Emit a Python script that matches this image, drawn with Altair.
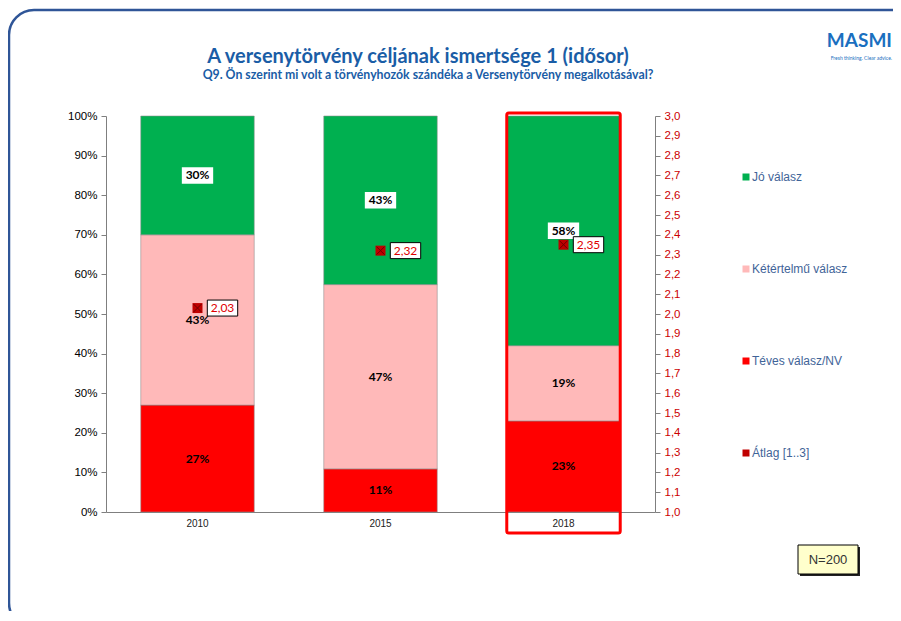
import altair as alt
import pandas as pd

# ---- data ----
years = ["2010", "2015", "2018"]
series_names = ["Téves válasz/NV", "Kétértelmű válasz", "Jó válasz"]
teves = [27, 11, 23]
ketertelmu = [43, 47, 19]
jo = [30, 43, 58]
atlag = [2.03, 2.32, 2.35]
legend_labels = ["Jó válasz", "Kétértelmű válasz", "Téves válasz/NV", "Átlag [1..3]"]
legend_colors = ["#00b050", "#ffb9b9", "#ff0000", "#c00000"]
pct_ticks = [0, 0.1, 0.2, 0.3, 0.4, 0.5, 0.6, 0.7, 0.8, 0.9, 1.0]
avg_ticks = [1.0, 1.1, 1.2, 1.3, 1.4, 1.5, 1.6, 1.7, 1.8, 1.9, 2.0,
             2.1, 2.2, 2.3, 2.4, 2.5, 2.6, 2.7, 2.8, 2.9, 3.0]
highlight_year = ["2018"]
title_text = ["A versenytörvény céljának ismertsége 1 (idősor)"]
subtitle_text = ["Q9. Ön szerint mi volt a törvényhozók szándéka a Versenytörvény megalkotásával?"]
n_label = ["N=200"]
logo_text = ["MASMI"]
tagline_text = ["Fresh thinking. Clear advice."]

rows = []
for s_i, (name, vals) in enumerate(zip(series_names, [teves, ketertelmu, jo])):
    for yr, v in zip(years, vals):
        rows.append({"year": yr, "series": name, "value": v, "order": s_i})
df = pd.DataFrame(rows)
df_avg = pd.DataFrame({"year": years, "atlag": atlag})

BLUE = "#1a5da6"
BOX = "M-1.9,-1H1.9V1H-1.9Z"

xscale = alt.Scale(domain=years, paddingInner=0.38, paddingOuter=0.19)
x_axis = alt.Axis(title=None, labelAngle=0, ticks=False, labelFontSize=10,
                  labelFont="Liberation Sans", labelColor="#222222", labelPadding=6,
                  domainColor="#7f7f7f", domainWidth=1)
x_enc = alt.X("year:N", scale=xscale, axis=x_axis)
yscale_left = alt.Scale(domain=[0, 1])
left_axis = alt.Axis(title=None, values=pct_ticks, format=".0%", grid=False,
                     tickSize=5, labelPadding=4, labelFontSize=11.5,
                     labelFont="Liberation Sans", labelColor="#000000",
                     domainColor="#7f7f7f", tickColor="#7f7f7f")
yscale_right = alt.Scale(domain=[1, 3])
right_axis = alt.Axis(title=None, orient="right", values=avg_ticks, format=".1f",
                      labelExpr="replace(datum.label, '.', ',')", grid=False,
                      tickSize=5, labelPadding=4, labelFontSize=11.5,
                      labelFont="Liberation Sans", labelColor="#cc0000",
                      domainColor="#7f7f7f", tickColor="#7f7f7f")
color_scale = alt.Scale(domain=legend_labels, range=legend_colors)
legend = alt.Legend(title=None, orient="none", legendX=634, legendY=55,
                    symbolType="square", symbolSize=49, symbolStrokeWidth=0,
                    labelFont="Liberation Sans", labelFontSize=12,
                    labelColor="#3f6498", rowPadding=80, labelOffset=0)

stacked = alt.Chart(df).transform_stack(
    stack="value", groupby=["year"],
    sort=[alt.SortField("order", order="ascending")],
    offset="normalize", as_=["y0", "y1"]
).transform_calculate(
    mid="(datum.y0 + datum.y1) / 2", label="datum.value + '%'"
)

bars = stacked.mark_bar(stroke="#8c8c8c", strokeWidth=0.8, strokeOpacity=0.7).encode(
    x=x_enc,
    y=alt.Y("y0:Q", scale=yscale_left, axis=left_axis),
    y2="y1",
    color=alt.Color("series:N", scale=color_scale, legend=legend),
)

highlight = alt.Chart(pd.DataFrame({"year": highlight_year})).mark_rect(
    fill="white", fillOpacity=0, stroke="#ff0000", strokeWidth=3, cornerRadius=2
).encode(x=x_enc, y=alt.value(-3), y2=alt.value(417))

label_boxes = stacked.transform_filter("datum.series == 'Jó válasz'").mark_point(
    shape=BOX, size=272, filled=True, fill="white", strokeWidth=0, opacity=1
).encode(x=x_enc, y=alt.Y("mid:Q", scale=yscale_left, axis=left_axis))

labels = stacked.mark_text(font="Lato", fontWeight="bold", fontSize=12, color="black").encode(
    x=x_enc, y=alt.Y("mid:Q", scale=yscale_left, axis=left_axis), text="label:N"
)

left = alt.layer(bars, label_boxes, labels, highlight)

avg_base = alt.Chart(df_avg).transform_calculate(
    lbl="replace(format(datum.atlag, '.2f'), '.', ',')"
)
y_right = alt.Y("atlag:Q", scale=yscale_right, axis=right_axis)
avg_point = avg_base.mark_point(shape="square", filled=True, size=100, opacity=1).encode(
    x=x_enc, y=y_right, color=alt.datum("Átlag [1..3]"),
)
avg_x = avg_base.mark_point(shape="M-1,-1L1,1M1,-1L-1,1", size=64, filled=False,
                            color="#6e0000", strokeWidth=1, opacity=1).encode(
    x=x_enc, y=y_right
)
avg_box = avg_base.mark_point(shape=BOX, size=256, filled=True, fill="white",
                              stroke="black", strokeWidth=1, opacity=1, xOffset=25).encode(
    x=x_enc, y=y_right
)
avg_text = avg_base.mark_text(dx=25, font="Lato", fontSize=12, color="#e00000").encode(
    x=x_enc, y=y_right, text="lbl:N"
)
right = alt.layer(avg_point, avg_x, avg_box, avg_text)

one = pd.DataFrame({"k": [0]})
frame = alt.Chart(one).mark_rect(
    fill="white", fillOpacity=0, stroke="#2f5597", strokeWidth=2.5, cornerRadius=25
).encode(x=alt.value(-97), x2=alt.value(830), y=alt.value(-106), y2=alt.value(512))

title = alt.Chart(pd.DataFrame({"t": title_text})).mark_text(
    font="Lato", fontSize=20, fontWeight="bold", color=BLUE
).encode(x=alt.value(312), y=alt.value(-59), text="t:N")
subtitle = alt.Chart(pd.DataFrame({"t": subtitle_text})).mark_text(
    font="Lato", fontSize=12.3, fontWeight="bold", color=BLUE
).encode(x=alt.value(322), y=alt.value(-41), text="t:N")

n_shadow = alt.Chart(one).mark_rect(fill="#222222").encode(
    x=alt.value(694), x2=alt.value(754), y=alt.value(431), y2=alt.value(460))
n_box = alt.Chart(one).mark_rect(fill="#ffffcc", stroke="black", strokeWidth=1).encode(
    x=alt.value(692), x2=alt.value(752), y=alt.value(429), y2=alt.value(458))
n_text = alt.Chart(pd.DataFrame({"t": n_label})).mark_text(
    font="Liberation Sans", fontSize=13, color="#333333"
).encode(x=alt.value(722), y=alt.value(443.5), text="t:N")

logo = alt.Chart(pd.DataFrame({"t": logo_text})).mark_text(
    font="Lato", fontSize=19, fontWeight="bold", color="#1a6fc0", align="right", baseline="alphabetic"
).encode(x=alt.value(786), y=alt.value(-69), text="t:N")
tagline = alt.Chart(pd.DataFrame({"t": tagline_text})).mark_text(
    font="Lato", fontSize=5, color="#1a6fc0", align="right"
).encode(x=alt.value(786), y=alt.value(-58), text="t:N")

chart = alt.layer(
    frame, left, right, title, subtitle, n_shadow, n_box, n_text, logo, tagline
).resolve_scale(y="independent").properties(
    width=549, height=396,
    padding={"left": 98, "top": 108, "right": 238, "bottom": 99},
    autosize=alt.AutoSizeParams(type="none"),
).configure_view(strokeWidth=0)

chart.save("out.html", embed_options={"renderer": "svg", "actions": False})
